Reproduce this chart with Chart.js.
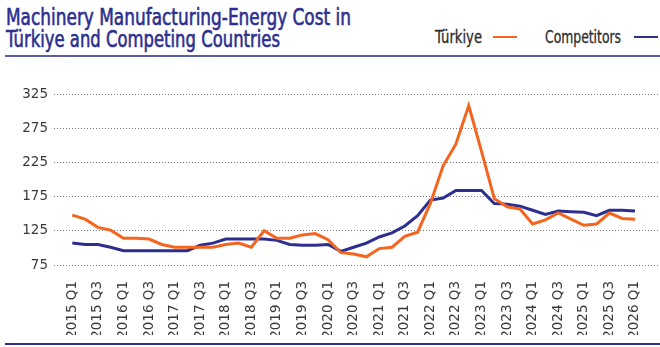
<!DOCTYPE html>
<html lang="en">
  <head>
    <meta charset="UTF-8" />
    <title>Machinery Manufacturing - Energy Cost</title>
    <style>
      body {
        margin: 0;
        width: 660px;
        height: 347px;
        position: relative;
        background: #fff;
        overflow: hidden;
      }
      .cond {
        font-family: "Liberation Sans Narrow", "DejaVu Sans Condensed", "Liberation Sans", sans-serif;
        display: inline-block;
        white-space: nowrap;
        transform-origin: left center;
      }
      #title {
        position: absolute;
        left: 6px;
        top: 6px;
        color: #2d2f8f;
        font-size: 23px;
        font-weight: normal;
        -webkit-text-stroke: 0.6px #2d2f8f;
        line-height: 22px;
      }
      #title div {
        height: 22px;
      }
      .legend-text {
        position: absolute;
        top: 28px;
        font-size: 17.5px;
        line-height: 18px;
        color: #2b2b2b;
        -webkit-text-stroke: 0.3px #2b2b2b;
      }
      .legend-line {
        position: absolute;
        top: 35.5px;
        height: 2.5px;
        width: 24px;
      }
      .rule {
        position: absolute;
        left: 5px;
        right: 0;
      }
      .chart-box {
        position: absolute;
        left: 0;
        top: 60px;
        width: 660px;
        height: 283px;
      }
    </style>
  </head>
  <body>
    <div id="title">
      <div><span class="cond" id="t1">Machinery Manufacturing-Energy Cost in</span></div>
      <div><span class="cond" id="t2">Türkiye and Competing Countries</span></div>
    </div>
    <span class="cond legend-text" id="lg1" style="left: 435px">Türkiye</span>
    <div class="legend-line" style="left: 493px; background: #f4661f"></div>
    <span class="cond legend-text" id="lg2" style="left: 545px">Competitors</span>
    <div class="legend-line" style="left: 634px; background: #2d2f8f"></div>
    <div class="rule" style="top: 55px; height: 2px; background: #5a5ea8"></div>
    <div class="chart-box">
      <canvas id="costChart"></canvas>
    </div>
    <div class="rule" style="top: 343px; height: 2px; background: #2d2f8f"></div>

    <script src="https://cdn.jsdelivr.net/npm/chart.js"></script>
    <script>
      const quarters = [
        "2015 Q1", "2015 Q2", "2015 Q3", "2015 Q4",
        "2016 Q1", "2016 Q2", "2016 Q3", "2016 Q4",
        "2017 Q1", "2017 Q2", "2017 Q3", "2017 Q4",
        "2018 Q1", "2018 Q2", "2018 Q3", "2018 Q4",
        "2019 Q1", "2019 Q2", "2019 Q3", "2019 Q4",
        "2020 Q1", "2020 Q2", "2020 Q3", "2020 Q4",
        "2021 Q1", "2021 Q2", "2021 Q3", "2021 Q4",
        "2022 Q1", "2022 Q2", "2022 Q3", "2022 Q4",
        "2023 Q1", "2023 Q2", "2023 Q3", "2023 Q4",
        "2024 Q1", "2024 Q2", "2024 Q3", "2024 Q4",
        "2025 Q1", "2025 Q2", "2025 Q3", "2025 Q4",
        "2026 Q1",
      ];

      const turkiye = [
        148, 142, 130, 126, 114, 114, 113, 105, 101, 101,
        101, 101, 105, 107, 101, 125, 114, 114, 119, 121,
        112, 93, 91, 87, 99, 101, 117, 123, 165, 220,
        252, 308, 241, 172, 160, 157, 135, 141, 151, 142,
        133, 135, 151, 143, 142,
      ];

      const competitors = [
        107, 105, 105, 101, 96, 96, 96, 96, 96, 96,
        104, 107, 113, 113, 113, 113, 111, 105, 104, 104,
        105, 95, 101, 107, 116, 122, 132, 147, 170, 173,
        184, 184, 184, 165, 164, 161, 155, 149, 154, 153,
        152, 147, 155, 155, 154,
      ];

      const yTicks = [75, 125, 175, 225, 275, 325];

      // squeeze the condensed header texts to their widths
      function fitWidth(id, width) {
        const el = document.getElementById(id);
        const w = el.getBoundingClientRect().width;
        el.style.transform = "scaleX(" + width / w + ")";
      }
      fitWidth("t1", 345);
      fitWidth("t2", 274);
      fitWidth("lg1", 47);
      fitWidth("lg2", 76);

      const toPoints = (vals) => vals.map((v, i) => ({ x: i, y: v }));
      const tickFont = { family: "DejaVu Sans", size: 13.5 };

      new Chart(document.getElementById("costChart"), {
        type: "line",
        data: {
          datasets: [
            {
              label: "Türkiye",
              data: toPoints(turkiye),
              borderColor: "#f4661f",
              borderWidth: 3,
              pointRadius: 0,
              tension: 0,
            },
            {
              label: "Competitors",
              data: toPoints(competitors),
              borderColor: "#2d2f8f",
              borderWidth: 3,
              pointRadius: 0,
              tension: 0,
            },
          ],
        },
        options: {
          responsive: true,
          maintainAspectRatio: false,
          animation: false,
          layout: { padding: { left: 0, right: 2, top: 34, bottom: 8 } },
          plugins: {
            legend: { display: false },
            tooltip: { enabled: false },
          },
          scales: {
            x: {
              type: "linear",
              min: -1.43,
              max: 45.8,
              afterBuildTicks: (axis) => {
                axis.ticks = quarters
                  .map((q, i) => ({ value: i }))
                  .filter((t) => t.value % 2 === 0);
              },
              afterFit: (axis) => {
                axis.height = 70;
              },
              ticks: {
                autoSkip: false,
                minRotation: 90,
                maxRotation: 90,
                padding: 8,
                color: "#3a3a3a",
                font: tickFont,
                callback: (value) => quarters[value],
              },
              grid: { display: false },
              border: { display: false },
            },
            y: {
              min: 75,
              max: 325,
              afterBuildTicks: (axis) => {
                axis.ticks = yTicks.map((v) => ({ value: v }));
              },
              afterFit: (axis) => {
                axis.width = 54;
              },
              ticks: {
                padding: 6,
                color: "#3a3a3a",
                font: tickFont,
              },
              grid: {
                color: "#7a7a7a",
                lineWidth: 1,
                drawTicks: false,
              },
              border: { display: false, dash: [1, 2] },
            },
          },
        },
      });
    </script>
  </body>
</html>
